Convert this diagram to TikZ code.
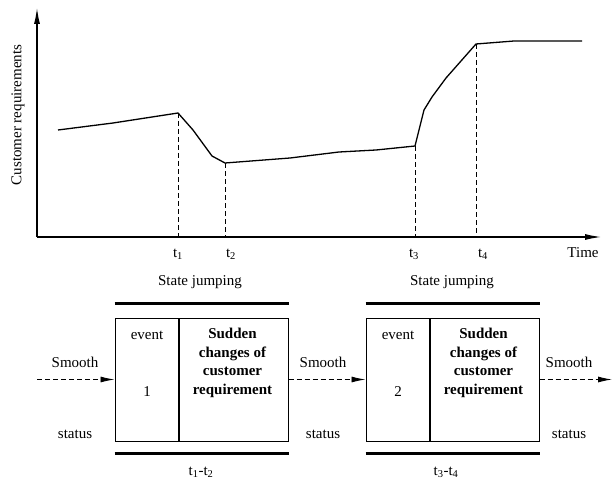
\documentclass[tikz,border=0pt]{standalone}
\usepackage{fontspec}
\setmainfont{Liberation Serif}
\usetikzlibrary{positioning,arrows.meta}

\tikzset{
  axis/.style={line width=1.2pt,-{Latex[length=16pt,width=6pt]}},
  curve/.style={line width=1.3pt,line join=round},
  guide/.style={line width=0.9pt,dash pattern=on 5pt off 3pt},
  cell/.style={draw,line width=1pt,minimum height=123pt,inner sep=0pt},
  bar/.style={line width=2.5pt},
  flow/.style={line width=0.9pt,dash pattern=on 5pt off 3pt,-{Latex[length=14pt,width=6pt]}},
  lbl/.style={font=\fontsize{15}{18}\selectfont,inner sep=0pt},
  hot/.style={font=\fontsize{15}{18.7}\selectfont\bfseries,align=center,inner sep=0pt},
}

\begin{document}
\begin{tikzpicture}[x=1pt,y=-1pt]
  \useasboundingbox (0,0) rectangle (612,481);
  % chart
  \coordinate (o) at (37,237);
  \coordinate (t1) at (178,113);
  \coordinate (t2) at (225,163);
  \coordinate (t3) at (415,146);
  \coordinate (t4) at (476,44);
  \draw[axis] (o)--(37,8);
  \draw[axis] (o)--(601,237);
  \draw[curve] (58,130)--(113,123)--(t1)--(193,130)--(212,156)--(t2)
    --(290,158)--(339,152)--(376,150)--(t3)--(424,110)--(432,97)--(446,78)
    --(461,61)--(t4)--(514,41)--(582,41);
  \foreach \t in {t1,t2,t3,t4}
    \draw[guide] (\t)--(\t |- o);
  \node[lbl,rotate=90] (ylab) at (18,115) {Customer requirements};
  \node[lbl] (xlab) at (583,253) {Time};
  \node[lbl] (l1) at (178,254) {t\textsubscript{1}};
  \node[lbl] (l2) at (231,254) {t\textsubscript{2}};
  \node[lbl] (l3) at (414,254) {t\textsubscript{3}};
  \node[lbl] (l4) at (483,254) {t\textsubscript{4}};
  \node[lbl] (jump1) at (200,282) {State jumping};
  \node[lbl] (jump2) at (452,282) {State jumping};

  % events
  \node[cell,minimum width=63pt] (ev1) at (146.5,379.5) {};
  \node[cell,minimum width=109pt,right=0pt of ev1] (ch1) {};
  \node[cell,minimum width=63pt] (ev2) at (397.5,379.5) {};
  \node[cell,minimum width=109pt,right=0pt of ev2] (ch2) {};
  \draw[bar] ([yshift=14pt]ev1.north west)--([yshift=14pt]ch1.north east);
  \draw[bar] ([yshift=-12pt]ev1.south west)--([yshift=-12pt]ch1.south east);
  \draw[bar] ([yshift=14pt]ev2.north west)--([yshift=14pt]ch2.north east);
  \draw[bar] ([yshift=-12pt]ev2.south west)--([yshift=-12pt]ch2.south east);
  \node[lbl] (name1) at (147,335) {event};
  \node[lbl] (num1) at (147,392) {1};
  \node[lbl] (name2) at (398,335) {event};
  \node[lbl] (num2) at (398,392) {2};
  \node[hot] (txt1) at (232.5,363) {Sudden\\changes of\\customer\\requirement};
  \node[hot] (txt2) at (483.5,363) {Sudden\\changes of\\customer\\requirement};
  \node[lbl] (span1) at (201,472) {t\textsubscript{1}-t\textsubscript{2}};
  \node[lbl] (span2) at (446,472) {t\textsubscript{3}-t\textsubscript{4}};

  % smooth status
  \coordinate (in) at (37,379.5);
  \coordinate (out) at (612,379.5);
  \draw[flow] (in)--(ev1);
  \draw[flow] (ch1)--(ev2);
  \draw[flow] (ch2)--(out);
  \node[lbl] (sm1) at (75,362) {Smooth};
  \node[lbl] (st1) at (75,434) {status};
  \node[lbl] (sm2) at (323,362) {Smooth};
  \node[lbl] (st2) at (323,434) {status};
  \node[lbl] (sm3) at (569,362) {Smooth};
  \node[lbl] (st3) at (569,434) {status};
\end{tikzpicture}
\end{document}
